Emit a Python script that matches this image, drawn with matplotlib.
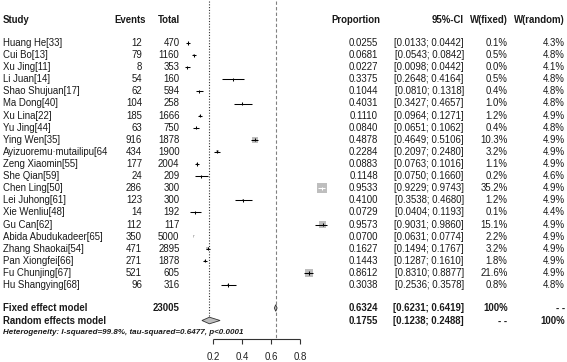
import matplotlib
matplotlib.use("Agg")
import matplotlib.pyplot as plt
import numpy as np

plt.rcParams['font.family'] = ['Liberation Sans', 'DejaVu Sans']

# ---------------- data ----------------
studies = ["Huang He[33]", "Cui Bo[13]", "Xu Jing[11]", "Li Juan[14]", "Shao Shujuan[17]",
           "Ma Dong[40]", "Xu Lina[22]", "Yu Jing[44]", "Ying Wen[35]", "Ayizuoremu\u00b7mutailipu[64",
           "Zeng Xiaomin[55]", "She Qian[59]", "Chen Ling[50]", "Lei Juhong[61]", "Xie Wenliu[48]",
           "Gu Can[62]", "Abida Abudukadeer[65]", "Zhang Shaokai[54]", "Pan Xiongfei[66]",
           "Fu Chunjing[67]", "Hu Shangying[68]"]
events = [12, 79, 8, 54, 62, 104, 185, 63, 916, 434, 177, 24, 286, 123, 14, 112, 350, 471, 271, 521, 96]
totals = [470, 1160, 353, 160, 594, 258, 1666, 750, 1878, 1900, 2004, 209, 300, 300, 192, 117,
          5000, 2895, 1878, 605, 316]
prop = [0.0255, 0.0681, 0.0227, 0.3375, 0.1044, 0.4031, 0.1110, 0.0840, 0.4878, 0.2284, 0.0883,
        0.1148, 0.9533, 0.4100, 0.0729, 0.9573, 0.0700, 0.1627, 0.1443, 0.8612, 0.3038]
lower = [0.0133, 0.0543, 0.0098, 0.2648, 0.0810, 0.3427, 0.0964, 0.0651, 0.4649, 0.2097, 0.0763,
         0.0750, 0.9229, 0.3538, 0.0404, 0.9031, 0.0631, 0.1494, 0.1287, 0.8310, 0.2536]
upper = [0.0442, 0.0842, 0.0442, 0.4164, 0.1318, 0.4657, 0.1271, 0.1062, 0.5106, 0.2480, 0.1016,
         0.1660, 0.9743, 0.4680, 0.1193, 0.9860, 0.0774, 0.1767, 0.1610, 0.8877, 0.3578]
w_fixed = [0.1, 0.5, 0.0, 0.5, 0.4, 1.0, 1.2, 0.4, 10.3, 3.2, 1.1, 0.2, 35.2, 1.2, 0.1, 15.1,
           2.2, 3.2, 1.8, 21.6, 0.8]
w_random = [4.3, 4.8, 4.1, 4.8, 4.8, 4.8, 4.9, 4.8, 4.9, 4.9, 4.9, 4.6, 4.9, 4.9, 4.4, 4.9,
            4.9, 4.9, 4.9, 4.9, 4.8]

fixed_total = 23005
fixed_est, fixed_lo, fixed_hi = 0.6324, 0.6231, 0.6419
random_est, random_lo, random_hi = 0.1755, 0.1238, 0.2488
heterogeneity = "Heterogeneity: I-squared=99.8%, tau-squared=0.6477, p<0.0001"
xticks = [0.2, 0.4, 0.6, 0.8]
headers = ["Study", "Events", "Total", "Proportion", "95%-CI", "W(fixed)", "W(random)"]

# ---------------- layout ----------------
W, H = 567, 362
DPI = 100
fig = plt.figure(figsize=(W / DPI, H / DPI), dpi=DPI)
ax = fig.add_axes([0, 0, 1, 1])
X0, XS = 184.0, 145.0          # pixel of proportion 0, pixels per unit
ax.set_xlim(-X0 / XS, (W - X0) / XS)
ax.set_ylim(H, 0)              # y in pixel rows
ax.axis('off')

y_header = 20
row0, step = 43.0, 12.1
y_rows = [row0 + step * i for i in range(len(studies))]
y_fixed, y_random, y_het = 308.0, 320.5, 333.0
y_axis, y_ticklab = 338.5, 357.5

fs = 6.9
tc = '#1a1a1a'
tr = ax.get_yaxis_transform()
def txt(px, y, s, ha='left', bold=False, **kw):
    ax.text(px / W, y, s, transform=tr, ha=ha, va='center', fontsize=fs,
            fontweight='bold' if bold else 'normal', color=tc, **kw)

# headers
col_x = {"Study": (3, 'left'), "Events": (146, 'right'), "Total": (180, 'right'),
         "Proportion": (331, 'left'), "95%-CI": (464, 'right'),
         "W(fixed)": (507.5, 'right'), "W(random)": (565, 'right')}
for h in headers:
    px, ha = col_x[h]
    txt(px, y_header, h, ha=ha, bold=True)

# study rows
for i, y in enumerate(y_rows):
    txt(3, y, studies[i])
    txt(142, y, str(events[i]), ha='right')
    txt(179.5, y, str(totals[i]), ha='right')
    txt(378, y, f"{prop[i]:.4f}", ha='right')
    txt(464, y, f"[{lower[i]:.4f}; {upper[i]:.4f}]", ha='right')
    txt(507.5, y, f"{w_fixed[i]:.1f}%", ha='right')
    txt(565, y, f"{w_random[i]:.1f}%", ha='right')

# summary rows
txt(3, y_fixed, "Fixed effect model", bold=True)
txt(179.5, y_fixed, str(fixed_total), ha='right', bold=True)
txt(378, y_fixed, f"{fixed_est:.4f}", ha='right', bold=True)
txt(464, y_fixed, f"[{fixed_lo:.4f}; {fixed_hi:.4f}]", ha='right', bold=True)
txt(507.5, y_fixed, "100%", ha='right', bold=True)
txt(565, y_fixed, "- -", ha='right', bold=True)

txt(3, y_random, "Random effects model", bold=True)
txt(378, y_random, f"{random_est:.4f}", ha='right', bold=True)
txt(464, y_random, f"[{random_lo:.4f}; {random_hi:.4f}]", ha='right', bold=True)
txt(507.5, y_random, "- -", ha='right', bold=True)
txt(565, y_random, "100%", ha='right', bold=True)

ax.text(3 / W, y_het, heterogeneity, transform=tr, ha='left', va='center', fontsize=5.8,
        fontweight='bold', fontstyle='italic', color=tc)

# ---------------- forest graphics ----------------
# reference lines
ax.vlines(fixed_est, 1, y_axis, colors='#808080', linestyles=(0, (3, 2)), linewidth=0.8, zorder=1)
ax.vlines(random_est, 1, y_random - 3.4, colors='#333333', linestyles=(0, (1, 1.5)), linewidth=0.8, zorder=1)

pt_per_px = 72.0 / DPI
for i, y in enumerate(y_rows):
    side_px = 1.75 * np.sqrt(w_fixed[i])
    ci_px = (upper[i] - lower[i]) * XS
    inside = ci_px < side_px
    if side_px > 0:
        ax.scatter([prop[i]], [y], marker='s', s=(side_px * pt_per_px) ** 2,
                   color='#bebebe', edgecolors='none', zorder=2)
    col = 'white' if inside else 'black'
    ax.hlines(y, lower[i], upper[i], colors=col, linewidth=0.75, zorder=3)
    ax.vlines(prop[i], y - 1.6, y + 1.6, colors=col, linewidth=0.75, zorder=3)

# diamonds
def diamond(est, lo, hi, y, half_h, fc):
    ax.fill([lo, est, hi, est, lo], [y, y - half_h, y, y + half_h, y],
            facecolor=fc, edgecolor='#333333', linewidth=0.6, zorder=4)

diamond(fixed_est, fixed_lo, fixed_hi, y_fixed, 3.3, '#bebebe')
diamond(random_est, random_lo, random_hi, y_random, 3.3, '#bebebe')

# x axis
ax.hlines(y_axis, xticks[0], xticks[-1], colors='#333333', linewidth=0.8)
for t in xticks:
    ax.vlines(t, y_axis, y_axis + 5, colors='#333333', linewidth=0.8)
    ax.text(t, y_ticklab, f"{t:.1f}", ha='center', va='center', fontsize=7.0, color='#222222')

fig.savefig("out.png", dpi=DPI)
